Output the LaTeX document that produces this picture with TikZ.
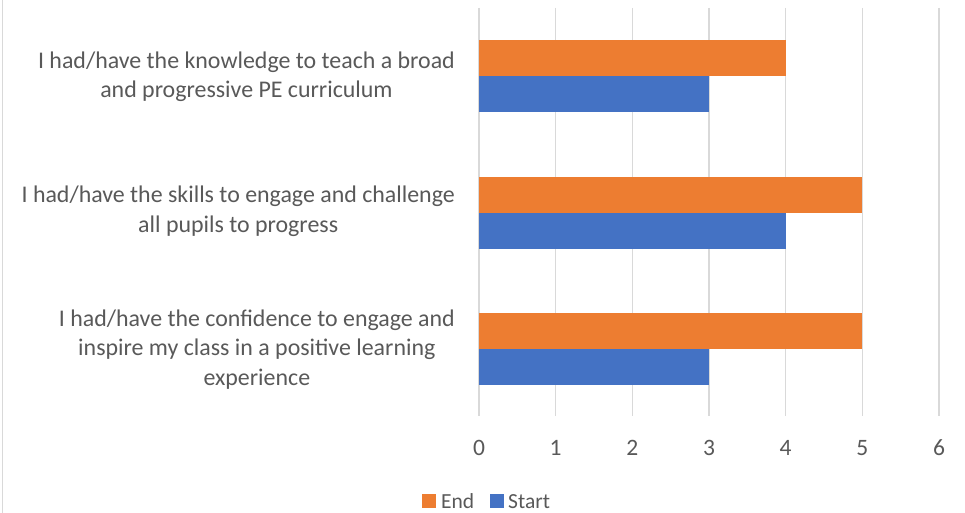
\documentclass[tikz,border=0pt]{standalone}
\usepackage{fontspec}
\setmainfont{Carlito}
\definecolor{txt}{HTML}{595959}
\definecolor{grid}{HTML}{D9D9D9}
\definecolor{endc}{HTML}{ED7D31}
\definecolor{startc}{HTML}{4472C4}
\tikzset{
  lbl/.style={text=txt, font=\fontsize{23.9}{29.5}\selectfont, align=center, inner sep=0pt},
  ticklbl/.style={text=txt, font=\fontsize{23.5}{26}\selectfont, inner sep=0pt},
  leglbl/.style={text=txt, font=\fontsize{21.5}{26}\selectfont, inner sep=0pt},
  gridline/.style={draw=grid, line width=1.3pt},
  endbar/.style={fill=endc},
  startbar/.style={fill=startc},
}
\begin{document}
\begin{tikzpicture}[x=1pt,y=-1pt]
\useasboundingbox (0,0) rectangle (965,513);
\fill[white] (0,0) rectangle (965,513);
\draw[grid, line width=1.2pt] (2.5,0) -- (2.5,513);
% gridlines and tick labels
\foreach \i in {0,...,6} {
  \draw[gridline] ({479+76.67*\i},8) -- ({479+76.67*\i},416);
  \node[ticklbl, anchor=base] (t\i) at ({479+76.67*\i},455) {\i};
}
% bars
\fill[endbar] (479,40) rectangle ({479+76.67*4},76);
\fill[startbar] (479,76) rectangle ({479+76.67*3},112);
\fill[endbar] (479,177) rectangle ({479+76.67*5},213);
\fill[startbar] (479,213) rectangle ({479+76.67*4},249);
\fill[endbar] (479,313) rectangle ({479+76.67*5},349);
\fill[startbar] (479,349) rectangle ({479+76.67*3},385);
% category labels (base = last line)
\node[lbl, anchor=base east] (c1) at (455,98) {I had/have the knowledge to teach a broad\\and progressive PE curriculum};
\node[lbl, anchor=base east] (c2) at (455,232) {I had/have the skills to engage and challenge\\all pupils to progress};
\node[lbl, anchor=base east] (c3) at (455,385) {I had/have the confidence to engage and\\inspire my class in a positive learning\\experience};
% legend
\fill[endc] (422,494) rectangle (436,508);
\node[leglbl, anchor=base west] (lend) at (441,508) {End};
\fill[startc] (490,494) rectangle (504,508);
\node[leglbl, anchor=base west] (lstart) at (508,508) {Start};
\end{tikzpicture}
\end{document}
